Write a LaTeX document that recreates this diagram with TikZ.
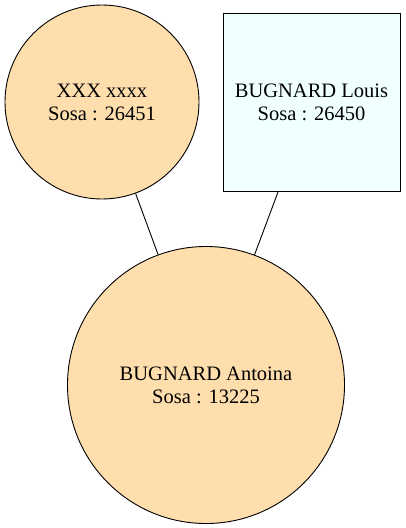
\documentclass[tikz,border=0pt]{standalone}
\usepackage{fontspec}
\setmainfont{Liberation Serif}
\definecolor{peach}{HTML}{FFDEAD}
\definecolor{azurefill}{HTML}{F0FFFF}
\tikzset{
  person/.style={draw=black, line width=0.9pt, align=center, inner sep=0pt,
    font=\fontsize{20.5}{23}\selectfont},
  fem/.style={person, circle, fill=peach},
  male/.style={person, rectangle, fill=azurefill},
  link/.style={draw=black, line width=0.9pt}
}
\begin{document}
\begin{tikzpicture}[x=1pt,y=-1pt]
\useasboundingbox (0,0) rectangle (406,528);
\node[fem, minimum size=194pt] (mother) at (102,102) {XXX xxxx\\Sosa : 26451};
\node[male, minimum width=177pt, minimum height=178pt] (father) at (311.5,102) {BUGNARD Louis\\Sosa : 26450};
\node[fem, minimum size=277pt] (child) at (206,385) {BUGNARD Antoina\\Sosa : 13225};
\draw[link] (mother) -- (child);
\draw[link] (father) -- (child);
\end{tikzpicture}
\end{document}
